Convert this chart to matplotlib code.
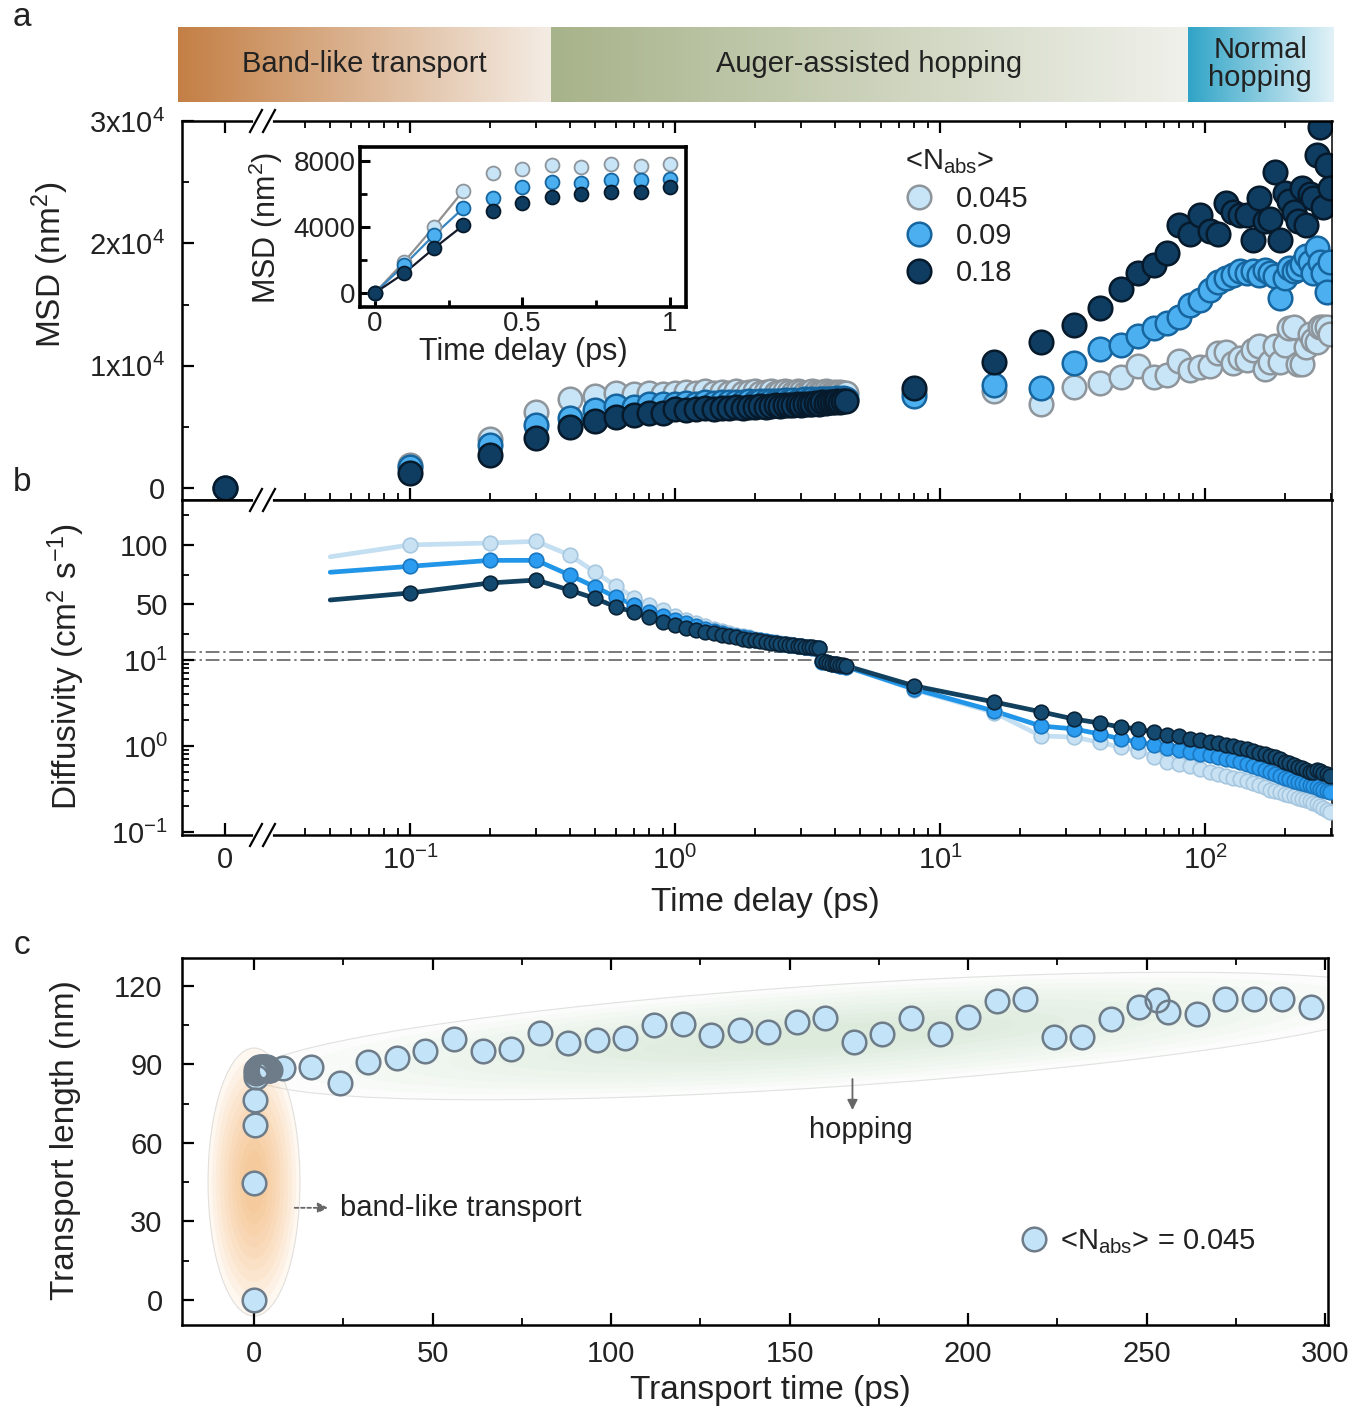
"""
MSD, diffusivity and transport length of carriers vs. time delay
(panels a, b, c) with the transport-regime header bar.
"""
import numpy as np
import matplotlib

matplotlib.use("Agg")
import matplotlib.pyplot as plt
import matplotlib.transforms as mtransforms
from matplotlib.lines import Line2D
from matplotlib.patches import Ellipse
from matplotlib.ticker import FixedLocator, FixedFormatter, NullFormatter

W, H = 1356, 1413

plt.rcParams["font.family"] = ["Liberation Sans", "DejaVu Sans"]
plt.rcParams["mathtext.fontset"] = "custom"
plt.rcParams["mathtext.rm"] = "Liberation Sans"
plt.rcParams["mathtext.it"] = "Liberation Sans:italic"
plt.rcParams["mathtext.bf"] = "Liberation Sans:bold"
plt.rcParams["mathtext.default"] = "regular"
plt.rcParams["axes.unicode_minus"] = False

# ----------------------------------------------------------------------
# Data
# ----------------------------------------------------------------------
N_ABS = ["0.045", "0.09", "0.18"]

T_EARLY = [round(0.1 * i, 1) for i in range(45)]   # 0.0 ... 4.4 ps
T_LATE = list(range(8, 297, 8))                    # 8 ... 296 ps

# panel a: MSD (nm^2)
MSD_045_EARLY = [0, 1900, 4000, 6200, 7250, 7500, 7750, 7650, 7800, 7700, 7800,
                 7850, 7750, 7900, 7800, 7850, 7750, 7900, 7800, 7850, 7900,
                 7800, 7850, 7900, 7800, 7850, 7900, 7850, 7800, 7900, 7850,
                 7800, 7850, 7900, 7850, 7800, 7850, 7900, 7850, 7800, 7850,
                 7800, 7850, 7750, 7800]
MSD_09_EARLY = [0, 1700, 3500, 5150, 5750, 6400, 6700, 6650, 6850, 6850, 6900,
                6950, 6900, 7000, 6950, 7000, 7050, 7000, 7050, 7100, 7050,
                7100, 7150, 7100, 7150, 7100, 7200, 7150, 7200, 7150, 7200,
                7250, 7200, 7250, 7200, 7250, 7300, 7250, 7300, 7250, 7300,
                7350, 7300, 7350, 7300]
MSD_18_EARLY = [0, 1200, 2700, 4100, 5000, 5450, 5800, 6000, 6100, 6150, 6450,
                6400, 6450, 6500, 6450, 6550, 6500, 6600, 6550, 6650, 6600,
                6700, 6650, 6700, 6750, 6700, 6800, 6750, 6800, 6850, 6800,
                6900, 6850, 6900, 6950, 6900, 7000, 6950, 7000, 7050, 7000,
                7100, 7050, 7100, 7150]
MSD_045_LATE = [7850, 7900, 6850, 8250, 8550, 9050, 9950, 9050, 9200, 10400,
                9650, 9900, 10000, 11000, 11100, 10250, 10650, 10500, 11300, 11600,
                9700, 10300, 11600, 10300, 11700, 13050, 13200, 10100, 10100, 11550,
                12550, 12100, 11950, 13200, 13200, 13200, 12550]
MSD_09_LATE = [7500, 8400, 8200, 10200, 11400, 11700, 12400, 13100, 13500, 14000,
               15000, 15400, 16200, 16800, 17200, 17400, 17700, 17600, 17700, 17400,
               17800, 17600, 17300, 15500, 17200, 18000, 17700, 17900, 18300, 19000,
               18500, 17600, 19600, 18500, 17600, 16000, 18500]
MSD_18_LATE = [8200, 10300, 11900, 13300, 14700, 16300, 17600, 18200, 19200, 21500,
               20800, 22300, 21000, 20800, 23300, 22600, 22300, 22300, 20300, 23700,
               21800, 22000, 25800, 20300, 24100, 23500, 22600, 21800, 24500, 21500,
               24000, 23700, 27200, 29500, 23000, 26400, 24500]

# panel b: diffusivity (cm^2 s^-1); first value is the start of the curve (0.05 ps)
T_B_START = 0.05
D_045_EARLY = [90, 100, 101.6, 103, 91.5, 77, 65.5, 55.4, 49.5, 45, 40.5,
               37, 34, 31.5, 29.5, 27.5, 26, 24.5, 23.3, 22.2, 21.2,
               20.3, 19.5, 18.8, 18.1, 17.5, 16.9, 16.4, 15.9, 15.4, 15.0,
               14.6, 14.2, 13.8, 13.5, 13.2,
               9.6, 9.4, 9.2, 9.0, 8.9, 8.7, 8.6, 8.5, 8.4]
D_09_EARLY = [77, 82, 87, 87, 74.7, 64.6, 56, 49.5, 44, 40, 36.5,
              34, 31.5, 29.5, 27.7, 26.1, 24.7, 23.5, 22.4, 21.4, 20.5,
              19.7, 19.0, 18.3, 17.7, 17.1, 16.6, 16.1, 15.6, 15.2, 14.8,
              14.4, 14.0, 13.7, 13.4, 13.1,
              9.6, 9.4, 9.2, 9.0, 8.9, 8.7, 8.6, 8.5, 8.4]
D_18_EARLY = [53.7, 59.6, 68, 70.5, 62, 55, 47.8, 43.6, 39.4, 35.5, 32.7,
              30.5, 28.6, 27.0, 25.6, 24.3, 23.2, 22.2, 21.3, 20.5, 19.8,
              19.1, 18.5, 17.9, 17.4, 16.9, 16.4, 16.0, 15.6, 15.2, 14.8,
              14.5, 14.2, 13.9, 13.6, 13.3,
              9.7, 9.5, 9.3, 9.1, 9.0, 8.9, 8.8, 8.7, 8.6]
D_045_LATE = [4.5, 2.45, 1.31, 1.27, 1.1, 0.97, 0.88, 0.75, 0.65, 0.62,
              0.58, 0.54, 0.5, 0.47, 0.45, 0.43, 0.41, 0.39, 0.37, 0.35,
              0.33, 0.31, 0.3, 0.29, 0.28, 0.27, 0.26, 0.25, 0.24, 0.235,
              0.23, 0.22, 0.21, 0.2, 0.19, 0.18, 0.17]
D_09_LATE = [4.6, 2.55, 1.71, 1.58, 1.38, 1.21, 1.11, 1.03, 0.96, 0.9,
             0.85, 0.81, 0.78, 0.74, 0.71, 0.68, 0.65, 0.62, 0.59, 0.56,
             0.53, 0.5, 0.47, 0.45, 0.43, 0.41, 0.39, 0.38, 0.37, 0.36,
             0.35, 0.34, 0.33, 0.32, 0.31, 0.3, 0.29]
D_18_LATE = [5.0, 3.25, 2.5, 2.06, 1.85, 1.66, 1.58, 1.45, 1.34, 1.31,
             1.21, 1.17, 1.12, 1.08, 1.03, 1.0, 0.96, 0.92, 0.88, 0.84,
             0.8, 0.77, 0.75, 0.7, 0.66, 0.63, 0.6, 0.57, 0.55, 0.52,
             0.5, 0.5, 0.52, 0.51, 0.49, 0.47, 0.45]

# panel c: transport length (nm) for <N_abs> = 0.045
T_C = ([0, 0.1, 0.2, 0.3] + T_EARLY[4:] +
       [8, 16, 24, 32, 40, 48, 56, 64, 72, 80, 88, 96, 104, 112, 120, 128, 136,
        144, 152, 160, 168, 176, 184, 192, 200, 208, 216, 224, 232, 240, 248,
        253, 256, 264, 272, 280, 288, 296])
L_C = ([0, 44.7, 66.9, 76.4] +
       [85.1, 86.6, 88.0, 87.5, 88.3, 87.7, 88.3, 88.6, 88.0, 88.9, 88.3,
        88.6, 88.0, 88.6, 88.9, 88.3, 88.6, 88.9, 88.3, 88.6, 88.9, 88.6,
        88.3, 88.9, 88.6, 88.3, 88.6, 88.9, 88.6, 88.3, 88.6, 88.9, 88.6,
        88.3, 88.6, 88.3, 88.6, 88.0, 88.3, 87.9, 87.9] +
       [88.6, 89, 82.9, 90.9, 92.5, 95.1, 99.7, 95.1, 95.9, 102, 98.2, 99.4,
        100.1, 105, 105.5, 101.3, 103.2, 102.4, 106.2, 107.8, 98.6, 101.6,
        107.8, 101.6, 108.1, 114.3, 115, 100.5, 100.5, 107.4, 112, 114.6, 110,
        109.3, 115, 115, 115, 112])

# transport regimes in the header bar (boundaries in ps)
REGIMES = ["Band-like transport", "Auger-assisted hopping", "Normal\nhopping"]
REGIME_EDGES = [0.34, 86]

# ----------------------------------------------------------------------
# Styles
# ----------------------------------------------------------------------
MSD_STYLE = [dict(mfc="#c8e4f7", mec="#8e959b"),
             dict(mfc="#4cb0f0", mec="#17659e"),
             dict(mfc="#0f3d62", mec="#061a2b")]
D_STYLE = [dict(line="#c4dff2", mfc="#c9e2f3", mec="#a6c7df"),
           dict(line="#2196e8", mfc="#2b9cf0", mec="#1b78c0"),
           dict(line="#12405f", mfc="#154a70", mec="#0a2236")]
INSET_LINE = ["#909090", "#3a86c0", "#151a28"]
TXT = "#222222"
FS_TICK = 21
FS_LAB = 24

# ----------------------------------------------------------------------
# Broken axis scales: x = 0 | log time ; y(b) = log below 10, linear above
# (transformed units are pixels of the figure)
# ----------------------------------------------------------------------
X_DEC = 265.0
X_BRK_T = -412.0
X_ZERO_T = -450.0
XB = 10 ** (X_BRK_T / X_DEC)


def x_fwd(x):
    x = np.asarray(x, float)
    lg = X_DEC * np.log10(np.where(x > XB, x, XB))
    lin = X_ZERO_T + (x / XB) * (X_BRK_T - X_ZERO_T)
    return np.where(x > XB, lg, lin)


def x_inv(t):
    t = np.asarray(t, float)
    return np.where(t > X_BRK_T, 10 ** (t / X_DEC),
                    (t - X_ZERO_T) / (X_BRK_T - X_ZERO_T) * XB)


Y_DEC = 86.0
Y_GAP = 8.0
Y_LIN = 1.19


def y_fwd(y):
    y = np.asarray(y, float)
    lg = Y_DEC * np.log10(np.clip(y, 1e-9, None))
    lin = Y_DEC + Y_GAP + (y - 10) * Y_LIN
    return np.where(y > 10, lin, lg)


def y_inv(t):
    t = np.asarray(t, float)
    return np.where(t > Y_DEC + Y_GAP / 2, 10 + (t - Y_DEC - Y_GAP) / Y_LIN,
                    10 ** (t / Y_DEC))


def rect(l, t, r, b):
    return [l / W, 1 - b / H, (r - l) / W, (b - t) / H]


def fpos(px, py):
    return px / W, 1 - py / H


fig = plt.figure(figsize=(W / 100, H / 100), dpi=100)
PIX = mtransforms.Affine2D().scale(1 / W, -1 / H).translate(0, 1) + fig.transFigure


def style_spines(ax, right_lw=1.8):
    for side in ("left", "top", "bottom"):
        ax.spines[side].set_linewidth(1.8)
    ax.spines["right"].set_linewidth(right_lw)


def style_ticks(ax):
    ax.tick_params(which="both", direction="in", labelsize=FS_TICK, colors="black",
                   labelcolor=TXT)
    ax.tick_params(which="major", length=8.5, width=1.6)
    ax.tick_params(which="minor", length=5, width=1.3)


# ----------------------------------------------------------------------
# Header bar with the transport regimes
# ----------------------------------------------------------------------
hdr = fig.add_axes(rect(178, 27, 1333, 102))
edges_px = [178] + [675 + float(x_fwd(e)) for e in REGIME_EDGES] + [1333]
grad_cols = [("#c47f45", "#f4ece4"), ("#a7b38a", "#f0f1eb"), ("#30a4c7", "#e2f2f8")]
g = np.linspace(0, 1, 256)[None, :, None]
for i, label in enumerate(REGIMES):
    c0 = np.array(matplotlib.colors.to_rgb(grad_cols[i][0]))
    c1 = np.array(matplotlib.colors.to_rgb(grad_cols[i][1]))
    img = (1 - g) * c0 + g * c1
    hdr.imshow(img, extent=(edges_px[i], edges_px[i + 1], 102, 27), aspect="auto")
    hdr.text((edges_px[i] + edges_px[i + 1]) / 2, 64, label, ha="center", va="center",
             fontsize=21, color=TXT, linespacing=1.0)
hdr.set_xlim(178, 1333)
hdr.set_ylim(102, 27)
hdr.axis("off")

# ----------------------------------------------------------------------
# Panel a: MSD
# ----------------------------------------------------------------------
ax_a = fig.add_axes(rect(182, 121, 1332, 500))
ax_b = fig.add_axes(rect(182, 500, 1332, 835))

x_left = float(x_inv(-493))
x_right = float(10 ** (657 / X_DEC))
MAJOR_X = [0, 0.1, 1, 10, 100]
MINOR_X = ([m * d for d in (0.01, 0.1, 1, 10) for m in range(2, 10) if m * d > 0.035]
           + [200, 300])
for ax in (ax_a, ax_b):
    ax.set_xscale("function", functions=(x_fwd, x_inv))
    ax.set_xlim(x_left, x_right)
    ax.xaxis.set_major_locator(FixedLocator(MAJOR_X))
    ax.xaxis.set_minor_locator(FixedLocator(MINOR_X))
    ax.xaxis.set_minor_formatter(NullFormatter())
    style_spines(ax, right_lw=1.1)
    style_ticks(ax)

msd_sets = [(MSD_045_EARLY, MSD_045_LATE), (MSD_09_EARLY, MSD_09_LATE),
            (MSD_18_EARLY, MSD_18_LATE)]
for (early, late), st, lab in zip(msd_sets, MSD_STYLE, N_ABS):
    ax_a.plot(T_EARLY + T_LATE, early + late, ls="none", marker="o", ms=17,
              mew=1.8, label=lab, **st)

ax_a.set_ylim(-980, 30000)
ax_a.yaxis.set_major_locator(FixedLocator([0, 10000, 20000, 30000]))
ax_a.yaxis.set_major_formatter(FixedFormatter(["0", "1x10$^4$", "2x10$^4$", "3x10$^4$"]))
ax_a.yaxis.set_minor_locator(FixedLocator([5000, 15000, 25000]))
ax_a.xaxis.set_major_formatter(NullFormatter())
ax_a.tick_params(axis="x", which="both", top=True, bottom=True)
ax_a.tick_params(axis="y", which="both", left=True, right=False, pad=12)

leg = ax_a.legend(title="<N$_{abs}$>", loc="upper left", frameon=False,
                  bbox_to_anchor=fpos(893, 136), bbox_transform=fig.transFigure,
                  fontsize=FS_TICK, title_fontsize=FS_TICK, handlelength=1.0,
                  handletextpad=0.75, labelspacing=0.3, borderaxespad=0,
                  alignment="left")
for t in leg.get_texts():
    t.set_color(TXT)
leg.get_title().set_color(TXT)

# inset: first picosecond on a linear axis
ax_in = fig.add_axes(rect(360, 147, 686, 307))
ax_in.set_zorder(3)
for i, (early, _late) in enumerate(msd_sets):
    ax_in.plot(T_EARLY[:4], early[:4], color=INSET_LINE[i], lw=1.6, zorder=2)
for i, (early, _late) in enumerate(msd_sets):
    ax_in.plot(T_EARLY[:11], early[:11], ls="none", marker="o", ms=10, mew=1.3,
               zorder=3, **MSD_STYLE[i])
ax_in.set_xlim(-0.05, 1.054)
ax_in.set_ylim(-850, 8850)
ax_in.xaxis.set_major_locator(FixedLocator([0, 0.5, 1]))
ax_in.xaxis.set_major_formatter(FixedFormatter(["0", "0.5", "1"]))
ax_in.xaxis.set_minor_locator(FixedLocator([0.25, 0.75]))
ax_in.yaxis.set_major_locator(FixedLocator([0, 4000, 8000]))
ax_in.yaxis.set_minor_locator(FixedLocator([2000, 6000]))
for s in ax_in.spines.values():
    s.set_linewidth(2.6)
ax_in.tick_params(which="both", direction="in", labelsize=20, labelcolor=TXT)
ax_in.tick_params(which="major", length=7, width=2.2, pad=3)
ax_in.tick_params(which="minor", length=5, width=2.0)
fig.text(*fpos(523, 352), "Time delay (ps)", ha="center", va="center", fontsize=22,
         color=TXT)
fig.text(*fpos(266, 228), "MSD (nm$^2$)", ha="center", va="center", fontsize=22,
         rotation=90, color=TXT)

# ----------------------------------------------------------------------
# Panel b: diffusivity
# ----------------------------------------------------------------------
d_sets = [(D_045_EARLY, D_045_LATE), (D_09_EARLY, D_09_LATE), (D_18_EARLY, D_18_LATE)]
t_b = [T_B_START] + T_EARLY[1:] + T_LATE
for (early, late), st in zip(d_sets, D_STYLE):
    vals = early + late
    ax_b.plot(t_b, vals, color=st["line"], lw=3.4, solid_capstyle="round", zorder=2)
    ax_b.plot(t_b[1:], vals[1:], ls="none", marker="o", ms=10.5, mew=1.2,
              mfc=st["mfc"], mec=st["mec"], zorder=3)

ax_b.set_yscale("function", functions=(y_fwd, y_inv))
ax_b.set_ylim(float(y_inv(-89.0)), float(y_inv(246.0)))
ax_b.yaxis.set_major_locator(FixedLocator([0.1, 1, 10, 50, 100]))
ax_b.yaxis.set_major_formatter(FixedFormatter(["10$^{-1}$", "10$^{0}$", "10$^{1}$",
                                               "50", "100"]))
ax_b.yaxis.set_minor_locator(FixedLocator(
    [m * d for d in (0.1, 1) for m in range(2, 10)] + [25, 75, 125]))
ax_b.yaxis.set_minor_formatter(NullFormatter())
ax_b.xaxis.set_major_formatter(FixedFormatter(["0", "10$^{-1}$", "10$^{0}$",
                                               "10$^{1}$", "10$^{2}$"]))
ax_b.tick_params(axis="x", which="both", top=False, bottom=True, pad=8)
ax_b.tick_params(axis="y", which="both", left=True, right=False, pad=10)
for yv in (10.0, 10.0 + 1e-6):
    ax_b.axhline(yv, color="#555555", lw=1.1, ls=(0, (9, 2.5, 1.5, 2.5)), zorder=1)

# axis break marks
for ys in (121, 500, 835):
    fig.add_artist(Line2D([255, 270], [ys, ys], transform=PIX, color="white", lw=3.5))
    for cx in (256, 269):
        fig.add_artist(Line2D([cx - 6, cx + 6], [ys + 11, ys - 11], transform=PIX,
                              color="black", lw=1.6))

# ----------------------------------------------------------------------
# Panel c: transport length
# ----------------------------------------------------------------------
ax_c = fig.add_axes(rect(182, 958, 1328, 1325))
style_spines(ax_c)
style_ticks(ax_c)


def soft_ellipse(ax, cx, cy, w, h, ang, color, n, alpha):
    ax.add_patch(Ellipse((cx, cy), w, h, angle=ang, transform=PIX, fc="none",
                         ec="#e2e2e2", lw=0.8, zorder=0.4))
    for k in range(n):
        s = 1 - k / n * 0.85
        ax.add_patch(Ellipse((cx, cy), w * s, h * s, angle=ang, transform=PIX,
                             fc=color, ec="none", alpha=alpha, zorder=0.5))


soft_ellipse(ax_c, 830, 1036, 1160, 102, -3.8, "#bcdcbc", 10, 0.06)
soft_ellipse(ax_c, 254, 1182, 92, 268, 0, "#f2a550", 10, 0.075)

# fills first, then all rims on top (the dense early points merge into a grey blob)
ax_c.plot(T_C, L_C, ls="none", marker="o", ms=17, mew=0, mfc="#c3e3f8", zorder=3)
ax_c.plot(T_C, L_C, ls="none", marker="o", ms=17, mew=1.8, mfc="none",
          mec="#6d7c88", zorder=3.1)
handle_c = Line2D([], [], ls="none", marker="o", ms=17, mew=1.8, mfc="#c3e3f8",
                  mec="#6d7c88")
ax_c.set_xlim(-20.2, 300.8)
ax_c.set_ylim(-9.6, 130.7)
ax_c.xaxis.set_major_locator(FixedLocator(list(range(0, 301, 50))))
ax_c.xaxis.set_minor_locator(FixedLocator(list(range(25, 300, 50))))
ax_c.yaxis.set_major_locator(FixedLocator([0, 30, 60, 90, 120]))
ax_c.yaxis.set_minor_locator(FixedLocator([15, 45, 75, 105]))
ax_c.tick_params(axis="x", which="both", top=True, bottom=True, pad=11)
ax_c.tick_params(axis="y", which="both", left=True, right=False, pad=14)

ax_c.annotate("", xy=(21.5, 35.2), xytext=(10.6, 35.2),
              arrowprops=dict(arrowstyle="-|>", color="#666666", lw=1.3,
                              linestyle=(0, (2, 1.5)), mutation_scale=15))
ax_c.text(24, 35.2, "band-like transport", ha="left", va="center", fontsize=21,
          color=TXT)
ax_c.annotate("", xy=(167.6, 71.5), xytext=(167.6, 85.5),
              arrowprops=dict(arrowstyle="-|>", color="#666666", lw=1.3,
                              mutation_scale=15))
ax_c.text(170, 65, "hopping", ha="center", va="center", fontsize=21, color=TXT)

leg_c = ax_c.legend([handle_c], ["<N$_{abs}$> = 0.045"], loc="center left",
                    frameon=False, bbox_to_anchor=fpos(1008, 1242),
                    bbox_transform=fig.transFigure, fontsize=FS_TICK, handlelength=1.0,
                    handletextpad=0.4, borderaxespad=0)
for t in leg_c.get_texts():
    t.set_color(TXT)

# ----------------------------------------------------------------------
# Axis labels and panel letters
# ----------------------------------------------------------------------
fig.text(*fpos(50, 265), "MSD (nm$^2$)", rotation=90, ha="center", va="center",
         fontsize=FS_LAB, color=TXT)
fig.text(*fpos(66, 667), "Diffusivity (cm$^2$ s$^{-1}$)", rotation=90, ha="center",
         va="center", fontsize=FS_LAB, color=TXT)
fig.text(*fpos(765, 902), "Time delay (ps)", ha="center", va="center",
         fontsize=FS_LAB, color=TXT)
fig.text(*fpos(66, 1140), "Transport length (nm)", rotation=90, ha="center",
         va="center", fontsize=FS_LAB, color=TXT)
fig.text(*fpos(770, 1390), "Transport time (ps)", ha="center", va="center",
         fontsize=FS_LAB, color=TXT)
for letter, py in (("a", 18), ("b", 483), ("c", 945)):
    fig.text(*fpos(22, py), letter, ha="center", va="center", fontsize=FS_LAB,
             color=TXT)

fig.savefig("out.png", dpi=100)
